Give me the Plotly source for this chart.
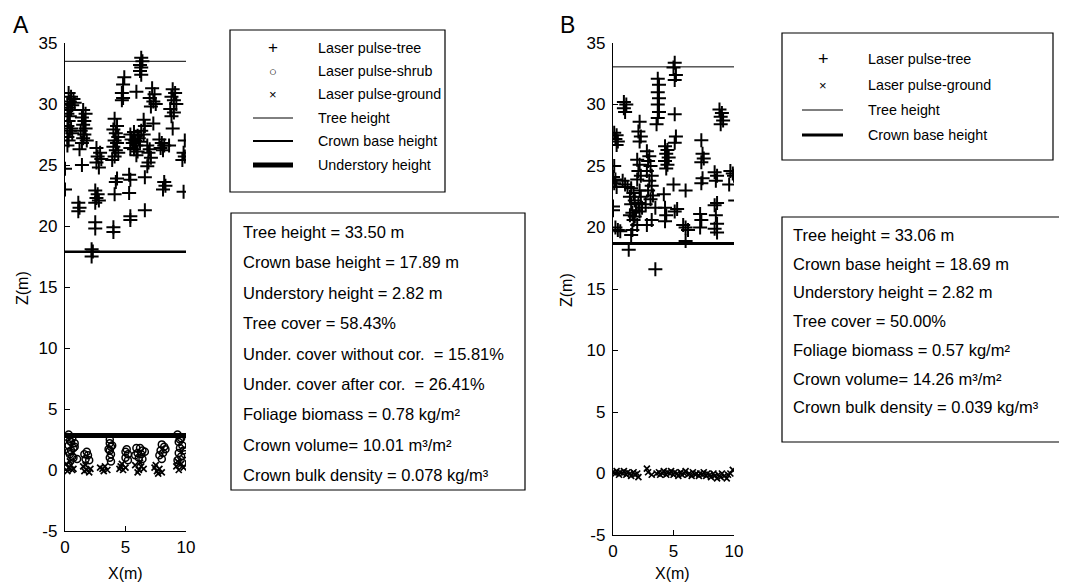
import plotly.graph_objects as go

# The page body has an 8px margin, so the figure is drawn 8px in from the corner.
OFF = 8
W, H = 1067 - OFF, 584 - OFF

# ---------------- Data: panel A ----------------
a_tree_x = [0.3,0.5,0.7,0.4,0.8,0.2,0.6,0.3,0.5,0.2,0.4,0.3,0.2,0.5,0.4,0.6,0.2,0.3,0.2,0.0,0.0,
            1.5,1.7,1.4,1.6,1.5,1.7,1.3,1.6,1.5,1.8,1.4,1.2,1.4,1.1,1.2,1.1,
            2.6,2.9,2.7,3.0,2.6,2.8,2.5,2.7,2.6,2.8,2.5,2.5,2.5,2.2,2.3,2.2,
            4.1,4.3,4.0,4.2,4.4,4.1,4.3,4.0,4.2,4.4,4.1,3.9,4.3,4.2,4.1,4.0,4.0,
            4.9,4.8,4.7,4.8,4.7,
            6.3,6.4,6.2,6.3,6.2,6.3,5.9,
            5.4,5.7,6.0,6.3,5.5,5.8,6.1,6.5,5.6,5.9,6.2,5.4,5.7,6.0,5.9,5.3,5.4,5.3,5.4,5.4,6.5,6.6,6.6,
            7.2,7.4,7.0,7.3,7.5,7.1,7.3,6.8,7.0,6.9,7.1,6.9,6.8,6.6,
            7.8,8.0,8.2,7.9,8.1,8.2,8.3,8.1,
            8.9,9.1,8.8,9.0,9.2,8.7,9.0,8.8,8.9,8.6,
            9.9,9.8,9.9,9.7,9.8]
a_tree_z = [30.9,30.6,30.4,30.2,30.1,30.0,29.9,29.7,29.5,29.2,29.0,28.6,28.2,28.0,27.8,27.6,27.3,27.0,26.6,24.7,23.0,
            29.5,29.2,28.9,28.6,28.3,28.0,27.8,27.5,27.2,27.0,26.8,26.3,25.0,21.9,21.5,21.2,
            26.4,26.0,25.7,25.5,25.2,24.8,22.9,22.6,22.3,22.1,21.9,20.3,19.8,18.1,17.9,17.5,
            28.8,28.2,27.9,27.6,27.3,27.0,26.8,26.5,26.2,26.0,25.7,25.4,23.9,23.6,22.6,19.9,19.5,
            32.2,31.6,30.9,30.5,30.3,
            33.8,33.5,33.2,33.0,32.7,32.4,31.0,
            27.5,27.7,27.4,27.8,27.1,27.0,27.2,27.5,26.8,26.6,26.9,26.4,26.3,26.1,25.8,24.2,23.8,22.7,20.8,20.5,28.7,28.2,21.3,
            31.3,30.8,30.5,30.2,30.0,29.8,28.4,26.6,26.3,26.0,25.6,25.2,24.9,24.0,
            27.1,26.8,26.6,26.4,26.2,23.6,23.3,23.0,
            31.2,30.9,30.6,30.3,30.0,29.6,29.3,29.0,28.0,26.6,
            27.0,26.0,25.7,25.4,22.8]
a_shrub_x = [0.3,0.6,0.4,0.8,0.3,0.7,0.5,0.4,0.7,1.0,0.2,0.5,0.8,0.3,0.6,
             1.6,1.9,1.7,2.0,1.8,
             3.7,3.7,3.8,3.7,3.8,3.7,3.8,3.9,3.6,
             5.0,5.2,5.0,5.2,5.1,
             5.9,6.2,6.4,6.0,6.3,6.1,6.4,6.6,5.8,
             8.0,8.2,7.9,8.1,7.8,8.0,8.3,
             9.3,9.6,9.4,9.7,9.5,9.8,9.4,9.6,9.3,9.9,9.5,9.7]
a_shrub_z = [2.9,2.6,2.4,2.2,2.0,1.8,1.6,1.3,1.0,0.9,2.7,2.3,1.9,1.5,1.1,
             1.3,1.2,0.9,0.8,1.5,
             2.5,2.2,1.9,1.6,1.3,1.0,0.7,2.0,1.7,
             1.5,1.3,1.0,0.8,1.7,
             1.8,1.8,1.6,1.4,1.3,1.0,0.9,1.5,1.2,
             2.1,1.9,1.6,1.4,1.2,0.9,1.7,
             2.9,2.6,2.3,2.0,1.8,1.6,1.4,1.1,0.8,1.3,2.5,0.6]
a_ground_x = [0.1,0.3,0.5,0.7,0.2,0.6,0.4,1.5,1.8,2.0,1.7,2.1,1.6,3.1,3.3,3.5,2.9,3.2,4.6,4.8,4.5,5.0,4.7,
              5.8,6.1,6.3,6.0,6.5,6.2,7.4,7.6,7.8,7.5,8.0,7.7,9.2,9.4,9.6,9.8,9.3]
a_ground_z = [0.5,0.2,0.4,0.1,-0.1,0.0,0.7,0.3,0.0,-0.2,0.4,0.1,-0.1,0.1,0.3,0.0,0.2,-0.1,0.3,0.0,0.1,0.2,0.5,
              0.4,0.0,0.3,-0.2,0.1,0.6,0.2,-0.1,0.1,0.4,-0.2,-0.3,0.3,0.0,0.5,0.2,0.7]
a_tree_height = 33.50
a_crown_base = 17.89
a_understory = 2.82

# ---------------- Data: panel B ----------------
b_tree_x = [0.1,0.3,0.2,0.4,0.3,0.1,0.0,0.2,0.1,0.3,0.0,0.0,0.2,0.4,0.6,
            0.9,1.1,0.9,1.0,0.8,1.0,1.2,
            1.5,1.7,1.4,1.8,1.5,1.6,1.4,1.8,1.7,1.9,1.6,1.5,1.3,
            2.0,2.2,2.1,2.3,2.0,2.2,2.3,2.1,2.4,2.2,2.0,
            2.2,2.1,2.3,2.2,
            2.8,3.0,2.9,3.1,2.8,3.2,3.0,3.2,2.9,3.3,3.1,2.7,3.5,3.2,2.8,3.5,
            3.7,3.8,3.7,3.8,3.7,3.8,3.7,3.6,
            4.3,4.5,4.4,4.6,4.3,4.5,4.4,4.2,4.3,4.4,4.3,
            5.1,5.0,5.2,5.1,5.1,5.2,5.1,5.0,5.3,5.1,
            6.0,5.8,6.0,6.2,6.0,
            7.3,7.4,7.5,7.3,7.4,7.3,7.2,7.3,7.2,
            8.4,8.6,8.5,8.6,8.4,8.5,8.6,8.4,8.6,
            8.8,9.0,8.9,9.1,8.9,
            9.7,9.9,10.0,9.6,10.1]
b_tree_z = [27.7,27.5,27.2,27.0,26.7,25.0,24.1,23.9,23.6,23.3,21.7,21.4,20.0,19.8,19.7,
            30.2,30.0,29.7,29.4,23.8,23.5,23.3,
            23.2,22.8,22.5,22.2,21.9,21.2,21.0,20.9,20.6,21.4,19.8,19.4,18.2,
            25.5,25.1,24.6,24.2,23.9,23.0,22.5,22.0,21.6,21.3,20.2,
            28.6,27.8,27.4,27.0,
            26.2,25.8,25.4,25.0,24.6,24.2,23.8,23.4,23.0,22.6,22.3,21.9,21.6,20.6,20.2,16.6,
            32.1,31.6,31.0,30.5,30.0,29.4,28.9,28.4,
            26.6,26.3,26.0,25.7,25.4,25.1,24.8,22.7,21.6,21.0,20.5,
            33.4,33.0,32.4,32.0,29.2,27.4,26.9,23.5,21.5,21.3,
            23.0,20.2,20.0,19.8,18.9,
            27.1,26.0,25.6,25.3,24.0,23.6,21.1,20.6,20.0,
            24.5,24.2,23.8,22.0,21.8,21.0,20.3,19.9,19.6,
            29.6,29.3,29.0,28.7,28.4,
            24.6,24.4,24.2,23.5,22.2]
b_ground_x = [0.0,0.2,0.3,0.5,0.6,0.8,0.9,1.1,1.2,1.4,1.5,1.7,1.8,2.0,2.1,2.8,2.9,3.2,3.6,3.8,
              3.9,4.1,4.2,4.4,4.5,4.7,4.8,5.0,5.1,5.3,5.4,5.6,5.7,5.9,6.0,6.2,6.3,6.5,6.6,6.8,
              6.9,7.1,7.2,7.4,7.5,7.7,7.8,8.0,8.1,8.3,8.4,8.6,8.7,8.9,9.0,9.2,9.4,9.5,9.7,9.9]
b_ground_z = [0.1,0.0,0.2,-0.1,0.1,0.0,0.2,-0.1,0.1,0.0,-0.2,0.1,-0.1,0.0,-0.3,0.4,0.1,-0.1,0.0,0.1,
              -0.1,0.0,0.2,-0.1,0.1,0.0,0.2,-0.1,0.1,0.0,-0.2,0.1,-0.1,0.0,0.2,-0.1,0.0,-0.2,0.1,-0.1,
              0.0,-0.2,0.0,-0.1,0.1,-0.2,0.0,-0.1,-0.3,0.0,-0.2,-0.4,-0.1,-0.3,0.0,-0.2,-0.4,-0.1,0.0,0.3]
b_tree_height = 33.06
b_crown_base = 18.69

x_ticks = [0, 5, 10]
x_ticklabels = ["0", "5", "10"]
y_ticks = [-5, 0, 5, 10, 15, 20, 25, 30, 35]
y_ticklabels = ["-5", "0", "5", "10", "15", "20", "25", "30", "35"]

a_legend = ["Laser pulse-tree", "Laser pulse-shrub", "Laser pulse-ground",
            "Tree height", "Crown base height", "Understory height"]
b_legend = ["Laser pulse-tree", "Laser pulse-ground", "Tree height", "Crown base height"]

NB = "\u00a0"
a_stats = ["Tree height = 33.50 m", "Crown base height = 17.89 m", "Understory height = 2.82 m",
           "Tree cover = 58.43%", "Under. cover without cor. " + NB + "= 15.81%",
           "Under. cover after cor. " + NB + "= 26.41%", "Foliage biomass = 0.78 kg/m²",
           "Crown volume= 10.01 m³/m²", "Crown bulk density = 0.078 kg/m³"]
b_stats = ["Tree height = 33.06 m", "Crown base height = 18.69 m", "Understory height = 2.82 m",
           "Tree cover = 50.00%", "Foliage biomass = 0.57 kg/m²",
           "Crown volume= 14.26 m³/m²", "Crown bulk density = 0.039 kg/m³"]

FONT = "Liberation Sans, Arial, sans-serif"


def px(x):
    # screen pixel -> paper fraction
    return (x - OFF) / W


def py(y):
    return 1 - (y - OFF) / H


fig = go.Figure()

cross = dict(symbol="cross-thin", size=10, color="black", line=dict(width=2, color="black"))
circ = dict(symbol="circle-open", size=7, color="black", line=dict(width=1.5, color="black"))
xm = dict(symbol="x-thin", size=6, color="black", line=dict(width=1.7, color="black"))

# Panel A
fig.add_trace(go.Scatter(x=a_tree_x, y=a_tree_z, mode="markers", marker=cross, xaxis="x", yaxis="y"))
fig.add_trace(go.Scatter(x=a_shrub_x, y=a_shrub_z, mode="markers", marker=circ, xaxis="x", yaxis="y"))
fig.add_trace(go.Scatter(x=a_ground_x, y=a_ground_z, mode="markers", marker=xm, xaxis="x", yaxis="y"))
for h, w in [(a_tree_height, 1), (a_crown_base, 2.5), (a_understory, 5)]:
    fig.add_trace(go.Scatter(x=[0, 10], y=[h, h], mode="lines", line=dict(color="black", width=w),
                             xaxis="x", yaxis="y"))

# Panel B
fig.add_trace(go.Scatter(x=b_tree_x, y=b_tree_z, mode="markers", marker=cross, xaxis="x2", yaxis="y2"))
fig.add_trace(go.Scatter(x=b_ground_x, y=b_ground_z, mode="markers", marker=xm, xaxis="x2", yaxis="y2"))
for h, w in [(b_tree_height, 1), (b_crown_base, 3)]:
    fig.add_trace(go.Scatter(x=[0, 10], y=[h, h], mode="lines", line=dict(color="black", width=w),
                             xaxis="x2", yaxis="y2"))

ax_common = dict(showgrid=False, zeroline=False, showline=True, linecolor="black", linewidth=1.3,
                 ticks="inside", ticklen=5, tickcolor="black", tickwidth=1.3, automargin=False,
                 tickfont=dict(family=FONT, size=17, color="black"), mirror=False)
xax = dict(range=[0, 10], tickvals=x_ticks, ticktext=x_ticklabels, **ax_common)
yax = dict(range=[-5, 35], tickvals=y_ticks, ticktext=y_ticklabels, ticklabelstandoff=3, **ax_common)

fig.update_layout(
    width=W, height=H, margin=dict(l=0, r=0, t=0, b=0, autoexpand=False),
    paper_bgcolor="white", plot_bgcolor="white", showlegend=False,
    xaxis=dict(domain=[px(65), px(186)], anchor="y", **xax),
    yaxis=dict(domain=[py(531), py(43)], anchor="x", **yax),
    xaxis2=dict(domain=[px(613), px(734)], anchor="y2", **xax),
    yaxis2=dict(domain=[py(535), py(43)], anchor="x2", **yax),
)

shapes = []
ann = []


def text(x, y, s, size=15, xanchor="left", angle=0):
    ann.append(dict(x=px(x), y=py(y), xref="paper", yref="paper", text=s, showarrow=False,
                    xanchor=xanchor, yanchor="middle", textangle=angle, borderpad=0,
                    font=dict(family=FONT, size=size, color="black")))


def rect(x0, y0, x1, y1):
    shapes.append(dict(type="rect", xref="paper", yref="paper", x0=px(x0), x1=px(x1),
                       y0=py(y1), y1=py(y0), line=dict(color="black", width=1.2)))


def hline(x0, x1, y, w):
    shapes.append(dict(type="line", xref="paper", yref="paper", x0=px(x0), x1=px(x1),
                       y0=py(y), y1=py(y), line=dict(color="black", width=w)))


# Panel letters and axis titles
text(21, 25, "A", size=23, xanchor="center")
text(567, 25, "B", size=23, xanchor="center")
text(22, 288, "Z(m)", size=16, xanchor="center", angle=-90)
text(567, 290, "Z(m)", size=16, xanchor="center", angle=-90)
text(125, 573, "X(m)", size=16, xanchor="center")
text(672, 573, "X(m)", size=16, xanchor="center")

LEG = 14.3
STAT = 16.5

# Legend A
rect(230, 30, 445, 192)
a_rows = [48, 71, 94, 118, 141, 165]
a_sym = ["+", "○", "×"]
for i, (lab, yy) in enumerate(zip(a_legend, a_rows)):
    text(317, yy, lab, size=LEG)
    if i < 3:
        text(273, yy, a_sym[i], size=[17, 13, 13][i], xanchor="center")
hline(253, 293, a_rows[3], 1)
hline(253, 293, a_rows[4], 2.2)
hline(253, 293, a_rows[5], 5)

# Legend B
rect(782, 33, 1053, 160)
b_rows = [59, 85, 110, 135]
b_sym = ["+", "×"]
for i, (lab, yy) in enumerate(zip(b_legend, b_rows)):
    text(867, yy, lab, size=LEG)
    if i < 2:
        text(823, yy, b_sym[i], size=[18, 13][i], xanchor="center")
hline(802, 843, b_rows[2], 1)
hline(802, 843, b_rows[3], 3)

# Stats A
rect(231, 213, 525, 490)
for i, s in enumerate(a_stats):
    text(242, 232 + i * 30.4, s, size=STAT)

# Stats B
rect(782, 217, 1065, 442)
for i, s in enumerate(b_stats):
    text(792, 235 + i * 28.7, s, size=STAT)

fig.update_layout(shapes=shapes, annotations=ann)
fig.write_html("out.html")
